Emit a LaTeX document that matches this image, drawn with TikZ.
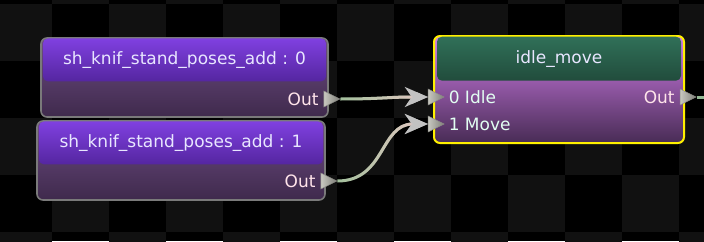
\documentclass[tikz,border=0pt]{standalone}
\usepackage{fontspec}
\setmainfont{DejaVu Sans}
\usetikzlibrary{positioning, arrows.meta, shapes.geometric, backgrounds, fadings}

% canvas tiles
\definecolor{tiledark}{HTML}{000000}
\definecolor{tilegray}{HTML}{111111}
% clip nodes
\definecolor{edgegray}{HTML}{7A7A7A}
\definecolor{bartop}{HTML}{8040E0}
\definecolor{barbot}{HTML}{5526A0}
\definecolor{bodytop}{HTML}{6E4C84}
\definecolor{bodybot}{HTML}{3F2A4C}
% blend node
\definecolor{selyellow}{HTML}{FFF000}
\definecolor{greentop}{HTML}{307058}
\definecolor{greenbot}{HTML}{214C3C}
\definecolor{blendtop}{HTML}{D07CE8}
\definecolor{blendbot}{HTML}{482C55}
% text and wires
\definecolor{titletxt}{HTML}{E8E6FF}
\definecolor{outtxt}{HTML}{FFE4EA}
\definecolor{intxt}{HTML}{E2FFF2}
\definecolor{wiregreen}{HTML}{A2C09C}
\definecolor{wirepink}{HTML}{EAC8C6}
\definecolor{exitwire}{HTML}{94B894}
\definecolor{tipgray}{HTML}{C2C2C2}
\definecolor{pinlight}{HTML}{C8C8C0}
\definecolor{pindark}{HTML}{7E7E78}

\begin{document}
\begin{tikzpicture}[x=1pt, y=-1pt,
    every node/.style={font=\fontsize{17}{20}\selectfont, inner sep=0pt},
    clipbody/.style={rounded corners=6pt, line width=1.6pt, draw=edgegray,
        top color=bodytop, bottom color=bodybot, minimum width=287pt, minimum height=79pt},
    clipbar/.style={rounded corners=5pt, top color=bartop, bottom color=barbot,
        minimum width=283pt, minimum height=43pt, anchor=north},
    blendbody/.style={rounded corners=6pt, line width=2pt, draw=selyellow,
        top color=blendtop, bottom color=blendbot, minimum width=250pt, minimum height=107pt},
    blendbar/.style={rounded corners=5pt, top color=greentop, bottom color=greenbot,
        minimum width=244pt, minimum height=44pt, anchor=north},
    title/.style={text=titletxt},
    outtext/.style={text=outtxt},
    intext/.style={text=intxt},
    pin/.style={isosceles triangle, isosceles triangle stretches, minimum width=16pt,
        minimum height=16pt, left color=pinlight, right color=pindark, draw=pinlight!70!black, line width=0.4pt},
    wire/.style={line width=3pt, draw=wiregreen,
        -{Stealth[length=23pt, width=20pt, inset=7pt, color=tipgray]}},
    wiretint/.style={wire, draw=wirepink, path fading=west}
]
\useasboundingbox (0,0) rectangle (704,241);

% --- clip nodes ---
\node[clipbody] (clipA) at (184.5,77.5) {};
\node[clipbar] (barA) at ([yshift=-1pt]clipA.north) {};
\node[title] (nameA) at (barA) {sh\_knif\_stand\_poses\_add : 0};
\node[pin] (outA) at ([yshift=-21.5pt]clipA.east) {};
\node[outtext, left=5pt of outA] (outlblA) {Out};

\node[clipbody, minimum width=288pt] (clipB) at (181,160.5) {};
\node[clipbar, minimum width=284pt] (barB) at ([yshift=-1pt]clipB.north) {};
\node[title] (nameB) at (barB) {sh\_knif\_stand\_poses\_add : 1};
\node[pin] (outB) at ([yshift=-20.5pt]clipB.east) {};
\node[outtext, left=5pt of outB] (outlblB) {Out};

% --- blend node ---
\node[blendbody] (blend) at (559,89.5) {};
\node[blendbar] (barC) at ([yshift=-1.5pt]blend.north) {};
\node[title] (nameC) at (barC) {idle\_move};
\node[pin] (inIdle) at ([yshift=-7.5pt]blend.west) {};
\node[pin] (inMove) at ([yshift=-34.5pt]blend.west) {};
\node[intext, right=4pt of inIdle] (lblIdle) {0 Idle};
\node[intext, right=4pt of inMove] (lblMove) {1 Move};
\node[pin] (outC) at ([yshift=-7.5pt]blend.east) {};
\node[outtext, left=5pt of outC] (outlblC) {Out};
\coordinate (exit) at (712,97);

\begin{scope}[on background layer]
    % checkerboard canvas
    \fill[tiledark] (0,0) rectangle (704,241);
    \foreach \i in {0,...,12}
        \foreach \r in {0,...,5} {
            \pgfmathtruncatemacro\odd{mod(\i+\r,2)}
            \ifnum\odd=1
                \fill[tilegray] (-5+57*\i,-53+57*\r) rectangle ++(57,57);
            \fi
        }

    % --- wires, green at the source turning pink at the target ---
    \draw[wire] (outA.east) .. controls +(40,0) and +(-40,0) .. (inIdle.west);
    \draw[wiretint] (outA.east) .. controls +(40,0) and +(-40,0) .. (inIdle.west);
    \draw[wire] (outB.east) .. controls +(48,0) and +(-48,0) .. (inMove.west);
    \draw[wiretint] (outB.east) .. controls +(48,0) and +(-48,0) .. (inMove.west);
    \draw[line width=3pt, draw=exitwire] (outC.east) -- (exit);
\end{scope}

\end{tikzpicture}
\end{document}
